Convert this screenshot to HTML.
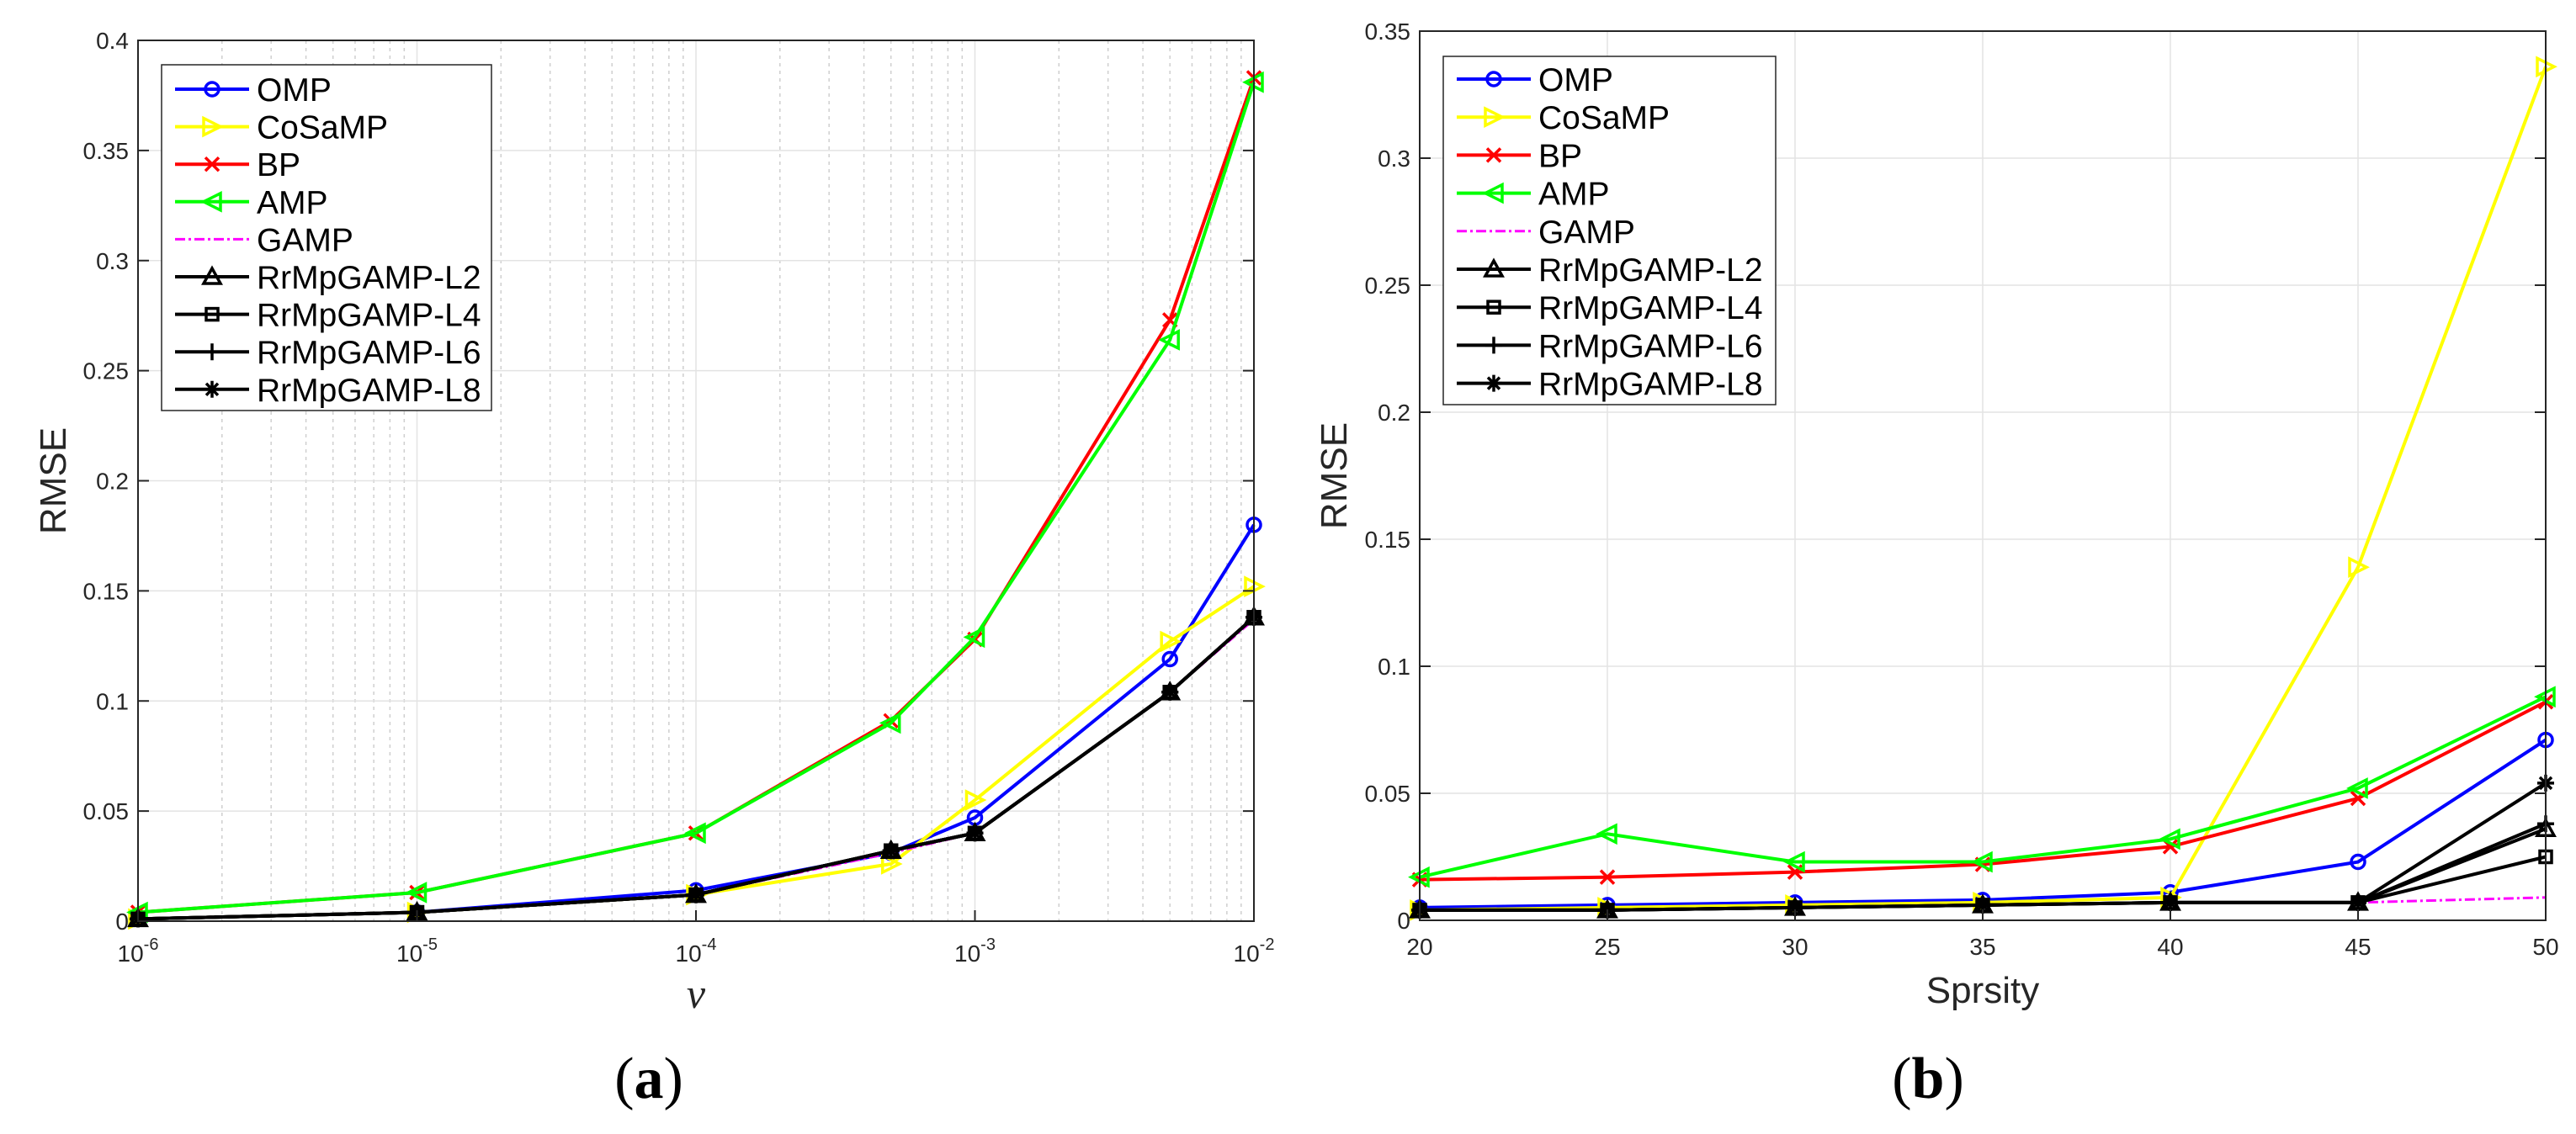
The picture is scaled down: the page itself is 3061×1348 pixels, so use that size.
<!DOCTYPE html>
<html><head><meta charset="utf-8"><style>
html,body{margin:0;padding:0;background:#fff;width:3061px;height:1348px;overflow:hidden}
svg{display:block}
text{font-family:"Liberation Sans",sans-serif}
</style></head><body>
<svg id="svg" width="3061" height="1348" xmlns="http://www.w3.org/2000/svg"></svg>
<script>
const seriesNames=["OMP","CoSaMP","BP","AMP","GAMP","RrMpGAMP-L2","RrMpGAMP-L4","RrMpGAMP-L6","RrMpGAMP-L8"];
const aX=[1e-6,1e-5,1e-4,5e-4,1e-3,5e-3,1e-2];
const aOMP=[0.001,0.004,0.014,0.031,0.047,0.119,0.180];
const aCoSaMP=[0.001,0.004,0.012,0.026,0.055,0.127,0.152];
const aBP=[0.004,0.013,0.040,0.091,0.128,0.273,0.383];
const aAMP=[0.004,0.013,0.040,0.090,0.129,0.264,0.381];
const aGAMP=[0.001,0.004,0.012,0.031,0.040,0.104,0.137];
const aL2=[0.001,0.004,0.012,0.032,0.040,0.104,0.138];
const aL4=[0.001,0.004,0.012,0.032,0.040,0.104,0.138];
const aL6=[0.001,0.004,0.012,0.032,0.040,0.104,0.138];
const aL8=[0.001,0.004,0.012,0.032,0.040,0.104,0.138];
const aYTicks=[0,0.05,0.1,0.15,0.2,0.25,0.3,0.35,0.4];
const aYLabels=["0","0.05","0.1","0.15","0.2","0.25","0.3","0.35","0.4"];
const aXTickExp=[-6,-5,-4,-3,-2];
const bX=[20,25,30,35,40,45,50];
const bOMP=[0.005,0.006,0.007,0.008,0.011,0.023,0.071];
const bCoSaMP=[0.004,0.005,0.006,0.007,0.009,0.139,0.336];
const bBP=[0.016,0.017,0.019,0.022,0.029,0.048,0.086];
const bAMP=[0.017,0.034,0.023,0.023,0.032,0.052,0.088];
const bGAMP=[0.004,0.004,0.005,0.006,0.007,0.007,0.009];
const bL2=[0.004,0.004,0.005,0.006,0.007,0.007,0.036];
const bL4=[0.004,0.004,0.005,0.006,0.007,0.007,0.025];
const bL6=[0.004,0.004,0.005,0.006,0.007,0.007,0.038];
const bL8=[0.004,0.004,0.005,0.006,0.007,0.007,0.054];
const bYTicks=[0,0.05,0.1,0.15,0.2,0.25,0.3,0.35];
const bYLabels=["0","0.05","0.1","0.15","0.2","0.25","0.3","0.35"];
const bXTicks=[20,25,30,35,40,45,50];

const colors=["#0000ff","#ffff00","#ff0000","#00ff00","#ff00ff","#000","#000","#000","#000"];
const markers=["o",">","x","<","none","^","s","+","*"];
const NS="http://www.w3.org/2000/svg";
const svg=document.getElementById('svg');
function el(tag,attrs,parent,txt){const e=document.createElementNS(NS,tag);for(const k in attrs)e.setAttribute(k,attrs[k]);if(txt!==undefined)e.textContent=txt;(parent||svg).appendChild(e);return e;}
function marker(g,type,x,y,c){
  const r=10,sw=3.5;
  if(type==="o")return el('circle',{cx:x,cy:y,r:8,fill:'none',stroke:c,'stroke-width':sw},g);
  if(type===">")return el('polygon',{points:`${x-r},${y-r} ${x+r},${y} ${x-r},${y+r}`,fill:'none',stroke:c,'stroke-width':sw},g);
  if(type==="<")return el('polygon',{points:`${x+r},${y-r} ${x-r},${y} ${x+r},${y+r}`,fill:'none',stroke:c,'stroke-width':sw},g);
  if(type==="^")return el('polygon',{points:`${x-r},${y+r*0.8} ${x},${y-r} ${x+r},${y+r*0.8}`,fill:'none',stroke:c,'stroke-width':sw},g);
  if(type==="s")return el('rect',{x:x-7,y:y-7,width:14,height:14,fill:'none',stroke:c,'stroke-width':sw},g);
  if(type==="x")return el('path',{d:`M${x-8},${y-8}L${x+8},${y+8}M${x-8},${y+8}L${x+8},${y-8}`,stroke:c,'stroke-width':sw},g);
  if(type==="+")return el('path',{d:`M${x-r},${y}L${x+r},${y}M${x},${y-r}L${x},${y+r}`,stroke:c,'stroke-width':sw},g);
  if(type==="*")return el('path',{d:`M${x-r},${y}L${x+r},${y}M${x},${y-r}L${x},${y+r}M${x-7},${y-7}L${x+7},${y+7}M${x-7},${y+7}L${x+7},${y-7}`,stroke:c,'stroke-width':sw},g);
}
function drawChart(cfg){
  const {L,R,T,B,xs,ys,xMap,yMax,name}=cfg;
  const g=el('g',{},svg);
  
  
  const X=v=>L+xMap(v)*(R-L), Y=v=>B-(v/yMax)*(B-T);
  cfg.minorGrid&&cfg.minorGrid.forEach(v=>el('line',{x1:X(v),x2:X(v),y1:T,y2:B,stroke:'#cfcfcf','stroke-width':1.5,'stroke-dasharray':'4,5'},g));
  cfg.xGrid.forEach(v=>el('line',{x1:X(v),x2:X(v),y1:T,y2:B,stroke:'#e3e3e3','stroke-width':1.5},g));
  cfg.yTicks.forEach(v=>el('line',{x1:L,x2:R,y1:Y(v),y2:Y(v),stroke:'#e3e3e3','stroke-width':1.5},g));
  ys.forEach((arr,i)=>{
    const sg=el('g',{},g);
    
    
    const pts=arr.map((v,j)=>X(xs[j])+','+Y(v)).join(' ');
    el('polyline',{points:pts,fill:'none',stroke:colors[i],'stroke-width':i===4?3:4,'stroke-dasharray':i===4?'12,4,3,4':'none'},sg);
    if(markers[i]!=="none")arr.forEach((v,j)=>marker(sg,markers[i],X(xs[j]),Y(v),colors[i]));
  });
  el('rect',{x:L,y:T,width:R-L,height:B-T,fill:'none',stroke:'#262626','stroke-width':2},g);
  cfg.yTicks.forEach((v,i)=>{
    el('line',{x1:L,x2:L+13,y1:Y(v),y2:Y(v),stroke:'#262626','stroke-width':2},g);
    el('line',{x1:R,x2:R-13,y1:Y(v),y2:Y(v),stroke:'#262626','stroke-width':2},g);
    const t=el('text',{x:L-11,y:Y(v)+10,'text-anchor':'end','font-size':28,fill:'#262626'},g,cfg.yLabels[i]);
    
    
  });
  cfg.xTickLabels(g,X,B);
  const yt=el('text',{x:0,y:0,'text-anchor':'middle','font-size':44,fill:'#262626',transform:`translate(${cfg.yTitleX},${(T+B)/2}) rotate(-90)`},g,'RMSE');
  
  
  const lg=el('g',{},g);
  
  
  const [lx,ly,lw,lh,first,step]=cfg.legend;
  el('rect',{x:lx,y:ly,width:lw,height:lh,fill:'#fff',stroke:'#262626','stroke-width':1.5},lg);
  seriesNames.forEach((n,i)=>{
    const cy=first+step*i;
    const e=el('g',{},lg);
    
    
    el('line',{x1:lx+16,x2:lx+104,y1:cy,y2:cy,stroke:colors[i],'stroke-width':i===4?3:4,'stroke-dasharray':i===4?'12,4,3,4':'none'},e);
    if(markers[i]!=="none")marker(e,markers[i],lx+60,cy,colors[i]);
    el('text',{x:lx+113,y:cy+14,'font-size':39,fill:'#000'},e,n);
  });
}
const logMap=v=>(Math.log10(v)+6)/4;
const minor=[];for(let e=-6;e<-2;e++)for(let m=2;m<=9;m++)minor.push(m*Math.pow(10,e));
drawChart({name:'chart-a',L:164,R:1490,T:48,B:1095,xs:aX,ys:[aOMP,aCoSaMP,aBP,aAMP,aGAMP,aL2,aL4,aL6,aL8],xMap:logMap,yMax:0.4,
  yTicks:aYTicks,yLabels:aYLabels,xGrid:aXTickExp.map(e=>Math.pow(10,e)),minorGrid:minor,yTitleX:78,legend:[192,77,392,411,106,44.6],
  xTickLabels:(g,X,B)=>{aXTickExp.forEach(e=>{const x=X(Math.pow(10,e));
    el('line',{x1:x,x2:x,y1:B,y2:B-13,stroke:'#262626','stroke-width':2},g);
    const t=el('text',{x:x,y:B+48,'text-anchor':'middle','font-size':28,fill:'#262626'},g);
    
    
    el('tspan',{},t,'10');el('tspan',{dy:-14,'font-size':20},t,String(e));});
    const xt=el('text',{x:(164+1490)/2,y:1198,'text-anchor':'middle','font-size':50,'font-style':'italic',fill:'#262626',style:'font-family:"Liberation Serif",serif'},g,'ν');
    
    }
});
drawChart({name:'chart-b',L:1687,R:3025,T:37,B:1094,xs:bX,ys:[bOMP,bCoSaMP,bBP,bAMP,bGAMP,bL2,bL4,bL6,bL8],xMap:v=>(v-20)/30,yMax:0.35,
  yTicks:bYTicks,yLabels:bYLabels,xGrid:bXTicks,yTitleX:1600,legend:[1715,67,395,414,94,45.2],
  xTickLabels:(g,X,B)=>{bXTicks.forEach(v=>{const x=X(v);
    el('line',{x1:x,x2:x,y1:B,y2:B-13,stroke:'#262626','stroke-width':2},g);
    const t=el('text',{x:x,y:1135,'text-anchor':'middle','font-size':28,fill:'#262626'},g,String(v));
    
    });
    const xt=el('text',{x:(1687+3025)/2,y:1192,'text-anchor':'middle','font-size':44,fill:'#262626'},g,'Sprsity');
    
    }
});
const ca=el('text',{x:771,y:1305,'text-anchor':'middle','font-size':70,fill:'#000',style:'font-family:"Liberation Serif",serif'},svg);


el('tspan',{},ca,'(');el('tspan',{'font-weight':'bold'},ca,'a');el('tspan',{},ca,')');
const cb=el('text',{x:2291,y:1305,'text-anchor':'middle','font-size':70,fill:'#000',style:'font-family:"Liberation Serif",serif'},svg);


el('tspan',{},cb,'(');el('tspan',{'font-weight':'bold'},cb,'b');el('tspan',{},cb,')');
</script>
</body></html>
